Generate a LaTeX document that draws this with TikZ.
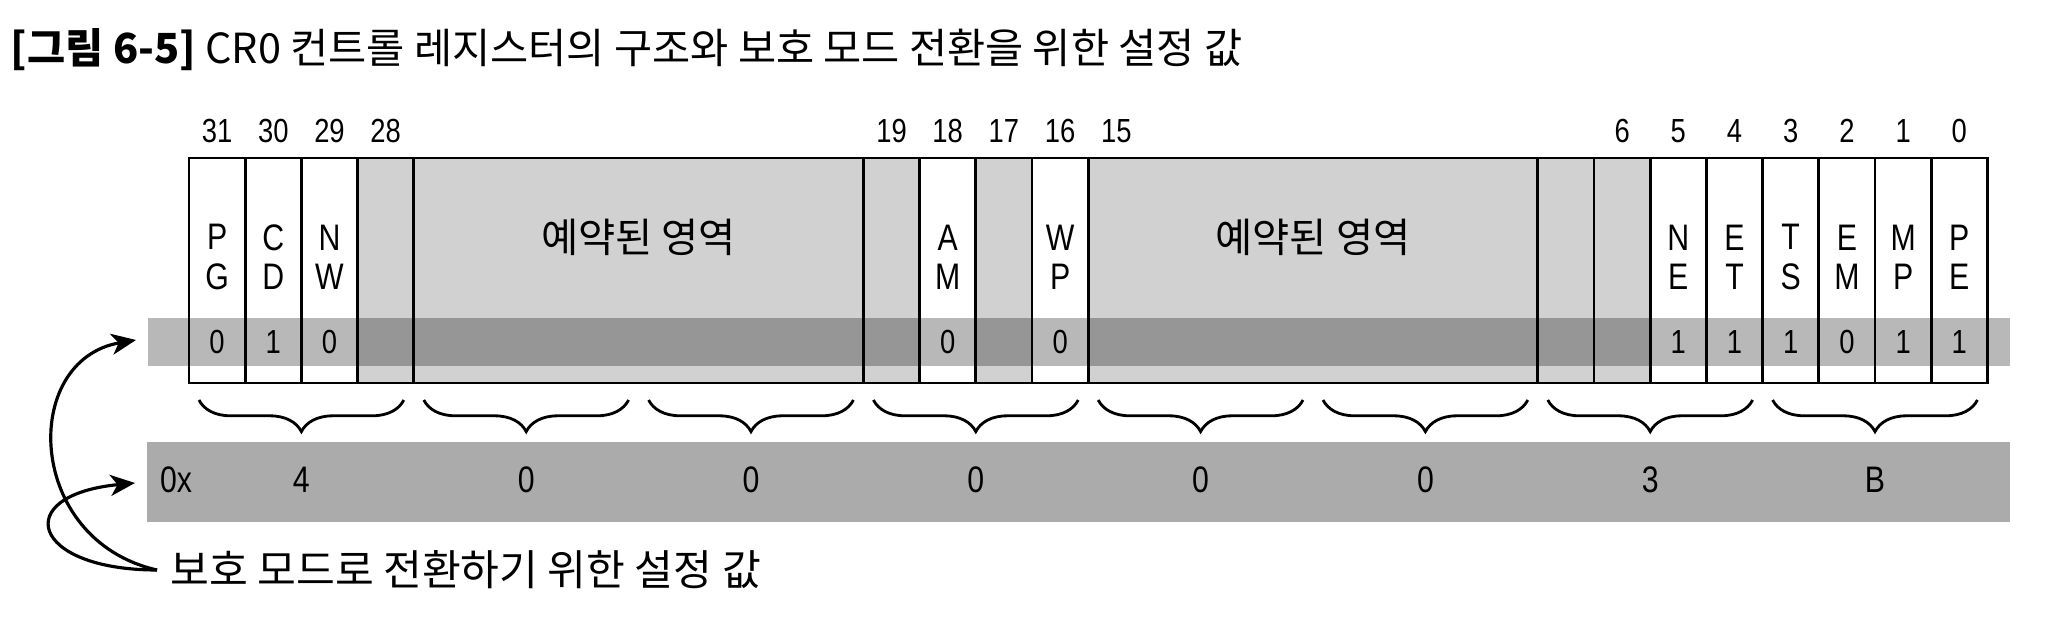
\documentclass[tikz,border=0pt]{standalone}
\usepackage{fontspec}
\setmainfont{Noto Sans CJK KR}
\newfontfamily\narrowfont[FakeStretch=0.82]{Liberation Sans}
\usetikzlibrary{arrows.meta,decorations.pathreplacing,positioning}
\tikzset{
    >={Stealth[length=7pt,width=6pt,inset=2pt]},
    cr0/.style={
        regline/.append style={draw,line width=0.8pt},
        resv/.append style={fill=black!18},
        valstrip/.append style={fill=black,fill opacity=0.28},
        hexstrip/.append style={fill=black!33},
        bitnum/.append style={font=\fontsize{9.5}{11}\selectfont\narrowfont,inner sep=0pt},
        flag/.append style={align=center,font=\fontsize{10.5}{11.1}\selectfont\narrowfont,inner sep=0pt},
        hexnum/.append style={font=\fontsize{10.5}{12}\selectfont\narrowfont,inner sep=0pt},
        krtxt/.append style={font=\fontsize{11.5}{13}\selectfont,inner sep=0pt},
        nibble/.append style={draw,line width=0.8pt,decorate,decoration={brace,mirror,amplitude=9pt,aspect=0.5}},
        callout/.append style={draw,line width=0.9pt}
    }
}

\begin{document}
\begin{tikzpicture}[cr0,x=0.1mm,y=-0.1mm]
    \useasboundingbox (0,0) rectangle (2048,627);
    \def\regx{189}
    \def\bitw{56.2}
    \node[anchor=west,inner sep=0pt,font=\fontsize{11.8}{14}\selectfont] (title) at (10,50)
        {\textbf{[그림 6-5]} CR0 컨트롤 레지스터의 구조와 보호 모드 전환을 위한 설정 값};

    % reserved bits
    \fill[resv] ({\regx+3*\bitw},158) rectangle ({\regx+13*\bitw},383);
    \fill[resv] ({\regx+14*\bitw},158) rectangle ({\regx+15*\bitw},383);
    \fill[resv] ({\regx+16*\bitw},158) rectangle ({\regx+26*\bitw},383);
    \fill[valstrip] (148,318) rectangle (2010,366);

    \draw[regline] (\regx,158) rectangle ({\regx+32*\bitw},383);
    \foreach \k in {1,2,3,4,12,13,14,15,16,24,25,26,27,28,29,30,31}
        \draw[regline] ({\regx+\k*\bitw},158) -- ({\regx+\k*\bitw},383);

    \foreach \b in {31,30,29,28,19,18,17,16,15,6,5,4,3,2,1,0}
        \node[bitnum] (n\b) at ({\regx+(31.5-\b)*\bitw},131) {\b};

    \foreach \b/\fa/\fb/\fv in {31/P/G/0,30/C/D/1,29/N/W/0,18/A/M/0,16/W/P/0,
                                5/N/E/1,4/E/T/1,3/T/S/1,2/E/M/0,1/M/P/1,0/P/E/1}{
        \node[flag] (f\b) at ({\regx+(31.5-\b)*\bitw},257) {\fa\\\fb};
        \node[bitnum] (v\b) at ({\regx+(31.5-\b)*\bitw},342) {\fv};
    }
    \node[krtxt] (rsv1) at ({\regx+8*\bitw},237) {예약된 영역};
    \node[krtxt] (rsv2) at ({\regx+20*\bitw},237) {예약된 영역};

    % nibbles
    \foreach \k in {0,...,7}
        \draw[nibble] ({\regx+4*\k*\bitw+10},400) -- ({\regx+(4*\k+4)*\bitw-10},400);
    \fill[hexstrip] (147,442) rectangle (2010,522);
    \node[hexnum] (hx) at (176,480) {0x};
    \foreach \d [count=\k from 0] in {4,0,0,0,0,0,3,B}
        \node[hexnum] (h\k) at ({\regx+(4*\k+2)*\bitw},480) {\d};

    \node[krtxt,anchor=west,inner xsep=3.6pt,font=\fontsize{12}{14}\selectfont] (note) at (157,570) {보호 모드로 전환하기 위한 설정 값};
    \coordinate (valtip) at (136,340);
    \coordinate (hextip) at (135,483);
    \draw[callout,->] (note.west) .. controls (25,540) and (20,360) .. (valtip);
    \draw[callout,->] (note.west) .. controls (30,570) and (10,495) .. (hextip);
\end{tikzpicture}
\end{document}
